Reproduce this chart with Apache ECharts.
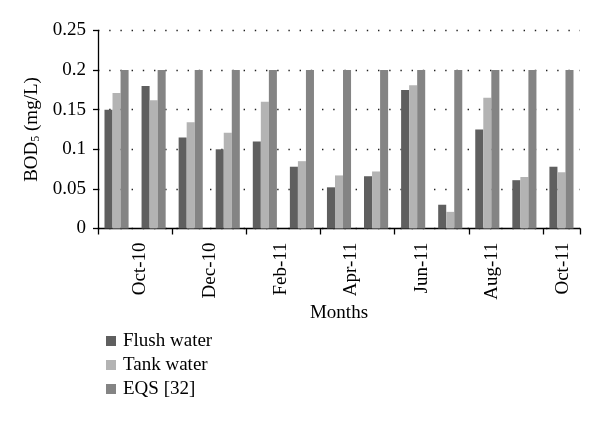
<!DOCTYPE html>
<html>
<head>
<meta charset="utf-8">
<script src="https://cdn.jsdelivr.net/npm/echarts@6/dist/echarts.min.js"></script>
<style>html,body{margin:0;padding:0;background:#fff}#c{width:600px;height:423px}</style>
</head>
<body>
<div id="c"></div>
<script>
const months = ['Oct-10','Nov-10','Dec-10','Jan-11','Feb-11','Mar-11','Apr-11','May-11','Jun-11','Jul-11','Aug-11','Sep-11','Oct-11'];
const tickLabels = ['Oct-10','Dec-10','Feb-11','Apr-11','Jun-11','Aug-11','Oct-11'];
const flushWater = [0.15, 0.18, 0.115, 0.10, 0.11, 0.078, 0.052, 0.066, 0.175, 0.030, 0.125, 0.061, 0.078];
const tankWater  = [0.171, 0.162, 0.134, 0.121, 0.16, 0.085, 0.067, 0.072, 0.181, 0.021, 0.165, 0.065, 0.071];
const eqs        = [0.2, 0.2, 0.2, 0.2, 0.2, 0.2, 0.2, 0.2, 0.2, 0.2, 0.2, 0.2, 0.2];
const seriesNames = ['Flush water', 'Tank water', 'EQS [32]'];

const FONT = 'Liberation Serif';
const chart = echarts.init(document.getElementById('c'), null, {renderer: 'canvas'});
chart.setOption({
  animation: false,
  backgroundColor: '#fff',
  textStyle: {fontFamily: FONT, color: '#000'},
  legend: {
    orient: 'vertical', left: 101, top: 326,
    itemWidth: 10, itemHeight: 10, itemGap: 4,
    icon: 'rect',
    textStyle: {fontFamily: FONT, fontSize: 19, color: '#000', lineHeight: 20, padding: [0,0,0,2]},
    data: seriesNames
  },
  grid: [
    {left: 98, right: 20, top: 30.5, bottom: 194.5},
    {left: 104.75, right: 1.75, top: 30.5, bottom: 194.5}
  ],
  xAxis: [
    {
      type: 'category', data: months, gridIndex: 0,
      boundaryGap: true,
      axisLine: {show: true, lineStyle: {color: '#000', width: 1.3}},
      axisTick: {show: true, interval: 1, length: 6, lineStyle: {color: '#000', width: 1.3}},
      axisLabel: {show: false},
      splitLine: {show: false},
      name: 'Months', nameLocation: 'middle', nameGap: 75,
      nameTextStyle: {fontFamily: FONT, fontSize: 19, color: '#000'}
    },
    {
      type: 'category', data: tickLabels, gridIndex: 1,
      axisLine: {show: false}, axisTick: {show: false},
      axisLabel: {rotate: 90, margin: 14, fontFamily: FONT, fontSize: 19, color: '#000', interval: 0}
    }
  ],
  yAxis: [
    {
      type: 'value', gridIndex: 0, min: 0, max: 0.25, interval: 0.05,
      axisLine: {show: true, lineStyle: {color: '#000', width: 1.3}},
      axisTick: {show: true, length: 5, lineStyle: {color: '#000', width: 1.3}},
      axisLabel: {margin: 12, fontFamily: FONT, fontSize: 19, color: '#000'},
      splitLine: {show: true, lineStyle: {color: '#222', width: 1.4, type: [1.4, 9.8]}},
      name: '{a|BOD}{s|5}{a| (mg/L)}', nameLocation: 'middle', nameGap: 54,
      nameTextStyle: {
        rich: {
          a: {fontFamily: FONT, fontSize: 19, color: '#000'},
          s: {fontFamily: FONT, fontSize: 12, color: '#000', verticalAlign: 'bottom', padding: [6,0,0,0]}
        }
      }
    },
    {type: 'value', gridIndex: 1, show: false}
  ],
  series: [
    {name: seriesNames[0], type: 'bar', data: flushWater, itemStyle: {color: '#5f5f5f'}, barGap: '0%', barCategoryGap: '35%'},
    {name: seriesNames[1], type: 'bar', data: tankWater, itemStyle: {color: '#b3b3b3'}, barGap: '0%', barCategoryGap: '35%'},
    {name: seriesNames[2], type: 'bar', data: eqs, itemStyle: {color: '#848484'}, barGap: '0%', barCategoryGap: '35%'}
  ]
});
</script>
</body>
</html>
